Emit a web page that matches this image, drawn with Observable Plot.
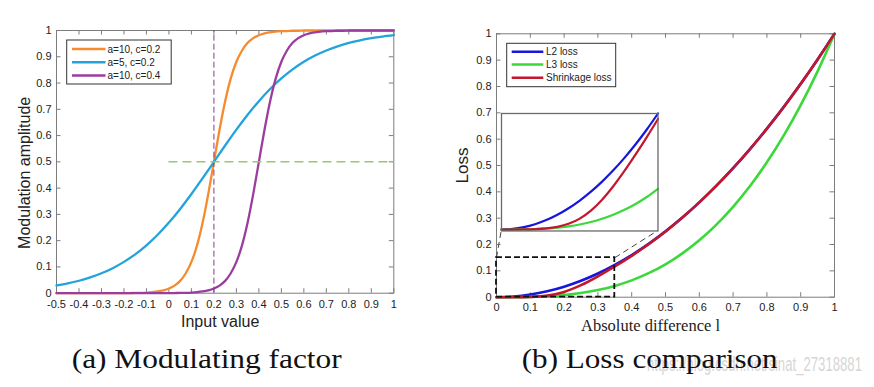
<!DOCTYPE html>
<html>
<head>
<meta charset="utf-8">
<script src="https://cdn.jsdelivr.net/npm/d3@7"></script>
<script src="https://cdn.jsdelivr.net/npm/@observablehq/plot@0.6"></script>
<style>
html, body { margin: 0; padding: 0; background: #fff; }
#root { position: relative; width: 874px; height: 387px; overflow: hidden; background: #fff; }
.abs { position: absolute; top: 0; }
</style>
</head>
<body>
<div id="root"></div>
<script>
// ---------- Panel (a): Modulating factor ----------
const seriesA = ["a=10, c=0.2", "a=5, c=0.2", "a=10, c=0.4"];
const xTicksA = [-0.5, -0.4, -0.3, -0.2, -0.1, 0, 0.1, 0.2, 0.3, 0.4, 0.5, 0.6, 0.7, 0.8, 0.9, 1];
const yTicks = [0, 0.1, 0.2, 0.3, 0.4, 0.5, 0.6, 0.7, 0.8, 0.9, 1];
const xSharp = [-0.5, -0.475, -0.45, -0.425, -0.4, -0.375, -0.35, -0.325, -0.3, -0.275, -0.25, -0.225, -0.2, -0.175, -0.15, -0.125, -0.1, -0.075, -0.05, -0.025,
  0, 0.025, 0.05, 0.075, 0.1, 0.125, 0.15, 0.175, 0.2, 0.225, 0.25, 0.275, 0.3, 0.325, 0.35, 0.375, 0.4, 0.425, 0.45, 0.475,
  0.5, 0.525, 0.55, 0.575, 0.6, 0.625, 0.65, 0.675, 0.7, 0.725, 0.75, 0.775, 0.8, 0.825, 0.85, 0.875, 0.9, 0.925, 0.95, 0.975, 1];
const orangeY = [0, 0, 0, 0, 0, 0, 0, 0, 0, 0, 0.0001, 0.0002, 0.0003, 0.0006, 0.0009, 0.0015, 0.0025, 0.0041, 0.0067, 0.011,
  0.018, 0.029, 0.047, 0.076, 0.119, 0.182, 0.269, 0.378, 0.5, 0.622, 0.731, 0.818, 0.881, 0.924, 0.953, 0.971, 0.982, 0.989, 0.993, 0.996,
  0.998, 0.998, 0.999, 0.999, 1, 1, 1, 1, 1, 1, 1, 1, 1, 1, 1, 1, 1, 1, 1, 1, 1];
const purpleY = [0, 0, 0, 0, 0, 0, 0, 0, 0, 0, 0, 0, 0, 0, 0, 0, 0, 0, 0.0001, 0.0002,
  0.0003, 0.0006, 0.0009, 0.0015, 0.0025, 0.0041, 0.0067, 0.011, 0.018, 0.029, 0.047, 0.076, 0.119, 0.182, 0.269, 0.378, 0.5, 0.622, 0.731, 0.818,
  0.881, 0.924, 0.953, 0.971, 0.982, 0.989, 0.993, 0.996, 0.998, 0.998, 0.999, 0.999, 1, 1, 1, 1, 1, 1, 1, 1, 1];
const xBlue = [-0.5, -0.45, -0.4, -0.35, -0.3, -0.25, -0.2, -0.15, -0.1, -0.05, 0, 0.05, 0.1, 0.15, 0.2, 0.25,
  0.3, 0.35, 0.4, 0.45, 0.5, 0.55, 0.6, 0.65, 0.7, 0.75, 0.8, 0.85, 0.9, 0.95, 1];
const blueY = [0.0293, 0.0373, 0.0474, 0.0601, 0.0759, 0.0953, 0.1192, 0.148, 0.1824, 0.2227, 0.2689, 0.3208, 0.3775, 0.4378, 0.5, 0.5622,
  0.6225, 0.6792, 0.7311, 0.7773, 0.8176, 0.852, 0.8808, 0.9047, 0.9241, 0.9399, 0.9526, 0.9627, 0.9707, 0.977, 0.982];
const refX = [0.2];      // vertical dashed reference
const refY = [0.5];      // horizontal dashed reference
const refYStart = [0];   // horizontal reference starts at x=0
const refYEnd = [1];

// ---------- Panel (b): Loss comparison ----------
const seriesB = ["L2 loss", "L3 loss", "Shrinkage loss"];
const xTicksB = [0, 0.1, 0.2, 0.3, 0.4, 0.5, 0.6, 0.7, 0.8, 0.9, 1];
const xLoss = [0, 0.05, 0.1, 0.15, 0.2, 0.25, 0.3, 0.35, 0.4, 0.45, 0.5, 0.55, 0.6, 0.65, 0.7, 0.75, 0.8, 0.85, 0.9, 0.95, 1];
const l2Loss = [0, 0.0025, 0.01, 0.0225, 0.04, 0.0625, 0.09, 0.1225, 0.16, 0.2025, 0.25, 0.3025, 0.36, 0.4225, 0.49, 0.5625, 0.64, 0.7225, 0.81, 0.9025, 1];
const l3Loss = [0, 0.000125, 0.001, 0.003375, 0.008, 0.015625, 0.027, 0.042875, 0.064, 0.091125, 0.125, 0.166375, 0.216, 0.274625, 0.343, 0.421875, 0.512, 0.614125, 0.729, 0.857375, 1];
const shrinkLoss = [0, 0.000118, 0.00119, 0.00605, 0.02, 0.0457, 0.0793, 0.1167, 0.1571, 0.2011, 0.2494, 0.3022, 0.3599, 0.4224, 0.4899, 0.5624, 0.6399, 0.7224, 0.8099, 0.9024, 0.9997];
const xInset = [0, 0.025, 0.05, 0.075, 0.1, 0.125, 0.15, 0.175, 0.2, 0.225, 0.25, 0.275, 0.3, 0.325, 0.35];
const l2Inset = [0, 0.000625, 0.0025, 0.005625, 0.01, 0.015625, 0.0225, 0.030625, 0.04, 0.050625, 0.0625, 0.075625, 0.09, 0.105625, 0.1225];
const l3Inset = [0, 0.0000156, 0.000125, 0.000422, 0.001, 0.00195, 0.003375, 0.00536, 0.008, 0.01139, 0.01563, 0.0208, 0.027, 0.03433, 0.04288];
const shrinkInset = [0, 0.0000181, 0.000118, 0.000428, 0.00119, 0.00284, 0.00605, 0.01158, 0.02, 0.03149, 0.04569, 0.06186, 0.07929, 0.0976, 0.1167];
const zoomBox = [{x1: 0, x2: 0.35, y1: 0, y2: 0.15}];          // dashed region in main axes
const insetBox = {x1: 0.014, x2: 0.477, y1: 0.253, y2: 0.699};  // where the inset sits (main data units)
const insetDomainX = [0, 0.35];
const insetDomainY = [-0.0015, 0.1225];
const connectors = [
  {x1: 0.35, y1: 0.15, x2: 0.477, y2: 0.253},
  {x1: 0, y1: 0.15, x2: 0.014, y2: 0.253}
];

// ---------- styling ----------
const sans = '"Liberation Sans", Arial, Helvetica, sans-serif';
const serif = '"Liberation Serif", "Times New Roman", serif';
const frameColor = "#7c7c7c";
const textColor = "#222";
const colA = ["#f58a2e", "#22a3dc", "#9b3d9e"];
const colB = ["#1616dc", "#3bd83b", "#c2172c"];
const tickLen = 4.5;

const root = document.getElementById("root");

function inwardTicks(xt, yt, innerW, innerH) {
  return [
    Plot.tickX(xt, {x: d => d, insetTop: innerH - tickLen, stroke: frameColor}),
    Plot.tickX(xt, {x: d => d, insetBottom: innerH - tickLen, stroke: frameColor}),
    Plot.tickY(yt, {y: d => d, insetRight: innerW - tickLen, stroke: frameColor}),
    Plot.tickY(yt, {y: d => d, insetLeft: innerW - tickLen, stroke: frameColor})
  ];
}

// ----- Panel (a)
const W1 = 420, H1 = 340, mL1 = 56, mR1 = 26.7, mT1 = 30, mB1 = 47.3;
const iW1 = W1 - mL1 - mR1, iH1 = H1 - mT1 - mB1;
const plotA = Plot.plot({
  width: W1, height: H1,
  marginLeft: mL1, marginRight: mR1, marginTop: mT1, marginBottom: mB1,
  style: {fontFamily: sans, fontSize: "11px", color: textColor, background: "transparent", overflow: "visible"},
  x: {domain: [-0.5, 1]},
  y: {domain: [0, 1]},
  marks: [
    Plot.axisX(xTicksA, {tickSize: 0, tickPadding: 7, tickFormat: d => String(d), label: null, fill: textColor}),
    Plot.axisY(yTicks, {tickSize: 0, tickPadding: 5, tickFormat: d => String(d), label: null, fill: textColor}),
    ...inwardTicks(xTicksA, yTicks, iW1, iH1),
    Plot.frame({stroke: frameColor, strokeWidth: 1}),
    Plot.line(xSharp, {x: d => d, y: (d, i) => orangeY[i], stroke: colA[0], strokeWidth: 2.3, curve: "monotone-x"}),
    Plot.line(xBlue, {x: d => d, y: (d, i) => blueY[i], stroke: colA[1], strokeWidth: 2.3, curve: "monotone-x"}),
    Plot.line(xSharp, {x: d => d, y: (d, i) => purpleY[i], stroke: colA[2], strokeWidth: 2.3, curve: "monotone-x"}),
    Plot.ruleX(refX, {x: d => d, y1: 0, y2: 1, stroke: "#8a3596", strokeWidth: 1, strokeDasharray: "6,3"}),
    Plot.ruleY(refY, {y: d => d, x1: refYStart[0], x2: refYEnd[0], stroke: "#93cc6b", strokeWidth: 1.5, strokeDasharray: "9,5"}),
    Plot.text(["Modulation amplitude"], {text: d => d, frameAnchor: "left", textAnchor: "middle", lineAnchor: "middle", dx: -32, dy: 11, rotate: -90, fontSize: 16, fill: textColor}),
    Plot.text(["Input value"], {text: d => d, frameAnchor: "bottom", textAnchor: "middle", lineAnchor: "middle", dx: -5, dy: 28.5, fontSize: 16, fill: textColor})
  ]
});
plotA.classList.add("abs");
plotA.style.left = "0px";
root.appendChild(plotA);

// ----- Panel (b)
const W2 = 434, H2 = 340, mL2 = 56, mR2 = 40, mT2 = 33.3, mB2 = 43.3;
const iW2 = W2 - mL2 - mR2, iH2 = H2 - mT2 - mB2;
const plotB = Plot.plot({
  width: W2, height: H2,
  marginLeft: mL2, marginRight: mR2, marginTop: mT2, marginBottom: mB2,
  style: {fontFamily: sans, fontSize: "11px", color: textColor, background: "transparent", overflow: "visible"},
  x: {domain: [0, 1]},
  y: {domain: [0, 1]},
  marks: [
    Plot.axisX(xTicksB, {tickSize: 0, tickPadding: 6, tickFormat: d => String(d), label: null, fill: textColor}),
    Plot.axisY(yTicks, {tickSize: 0, tickPadding: 5, tickFormat: d => String(d), label: null, fill: textColor}),
    ...inwardTicks(xTicksB, yTicks, iW2, iH2),
    Plot.frame({stroke: frameColor, strokeWidth: 1}),
    Plot.link(connectors, {x1: "x1", y1: "y1", x2: "x2", y2: "y2", stroke: "#444", strokeWidth: 1, strokeDasharray: "6,4"}),
    Plot.line(xLoss, {x: d => d, y: (d, i) => l2Loss[i], stroke: colB[0], strokeWidth: 2.6, curve: "monotone-x"}),
    Plot.line(xLoss, {x: d => d, y: (d, i) => l3Loss[i], stroke: colB[1], strokeWidth: 2.6, curve: "monotone-x"}),
    Plot.line(xLoss, {x: d => d, y: (d, i) => shrinkLoss[i], stroke: colB[2], strokeWidth: 2.6, curve: "monotone-x"}),
    Plot.rect(zoomBox, {x1: "x1", x2: "x2", y1: "y1", y2: "y2", fill: "none", stroke: "#111", strokeWidth: 1.8, strokeDasharray: "6,3"}),
    Plot.text(["Loss"], {text: d => d, frameAnchor: "left", textAnchor: "middle", lineAnchor: "middle", dx: -33.5, dy: 0, rotate: -90, fontSize: 17, fill: textColor}),
    Plot.text(["Absolute difference l"], {text: d => d, frameAnchor: "bottom", textAnchor: "middle", lineAnchor: "middle", dx: -15, dy: 28.5, fontSize: 16.5, fontFamily: serif, fill: textColor})
  ]
});
plotB.classList.add("abs");
plotB.style.left = "440px";
root.appendChild(plotB);

// ----- Inset of panel (b), placed with the main scales
const sx = plotB.scale("x"), sy = plotB.scale("y");
const ix0 = sx.apply(insetBox.x1), ix1 = sx.apply(insetBox.x2);
const iy0 = sy.apply(insetBox.y2), iy1 = sy.apply(insetBox.y1);
const inset = Plot.plot({
  width: ix1 - ix0, height: iy1 - iy0,
  margin: 0,
  style: {background: "#fff", overflow: "visible"},
  x: {domain: insetDomainX, axis: null},
  y: {domain: insetDomainY, axis: null},
  marks: [
    Plot.line(xInset, {x: d => d, y: (d, i) => l2Inset[i], stroke: colB[0], strokeWidth: 2.2, curve: "monotone-x"}),
    Plot.line(xInset, {x: d => d, y: (d, i) => l3Inset[i], stroke: colB[1], strokeWidth: 2.2, curve: "monotone-x"}),
    Plot.line(xInset, {x: d => d, y: (d, i) => shrinkInset[i], stroke: colB[2], strokeWidth: 2.2, curve: "monotone-x"}),
    Plot.frame({stroke: "#6a6a6a", strokeWidth: 1.3})
  ]
});
inset.classList.add("abs");
inset.style.left = (440 + ix0) + "px";
inset.style.top = iy0 + "px";
root.appendChild(inset);

// ----- Legends (inside the axes, MATLAB style)
function legend(svgNode, names, colors, box, rows, lineX, textX) {
  const g = d3.select(svgNode).append("g").attr("font-family", sans).attr("font-size", 10).attr("text-anchor", "start");
  g.append("rect").attr("x", box.x).attr("y", box.y).attr("width", box.w).attr("height", box.h)
    .attr("fill", "#fff").attr("stroke", "#333").attr("stroke-width", 1);
  names.forEach((n, i) => {
    g.append("line").attr("x1", lineX[0]).attr("x2", lineX[1]).attr("y1", rows[i]).attr("y2", rows[i])
      .attr("stroke", colors[i]).attr("stroke-width", 2.5);
    g.append("text").attr("x", textX).attr("y", rows[i]).attr("dy", "0.35em")
      .attr("text-anchor", "start").attr("fill", textColor).text(n);
  });
}
legend(plotA, seriesA, colA, {x: 66.7, y: 40, w: 104.5, h: 44}, [49, 62.3, 75.5], [72, 105.5], 107.5);
legend(plotB, seriesB, colB, {x: 66.7, y: 43.3, w: 109, h: 43.4}, [51.7, 64.6, 77.8], [71.7, 103.3], 106);

// ----- Captions and watermark
const cap = d3.select(root).append("svg").attr("class", "abs").style("left", "0px")
  .attr("width", 874).attr("height", 387).style("pointer-events", "none");
cap.append("text").attr("x", 647).attr("y", 371).attr("font-family", sans).attr("font-size", 20)
  .attr("fill", "#d6d6d6").attr("textLength", 215).attr("lengthAdjust", "spacingAndGlyphs")
  .text("https://blog.csdn.net/sinat_27318881");
cap.append("text").attr("x", 71.7).attr("y", 368).attr("font-family", serif).attr("font-size", 27)
  .attr("fill", "#111").attr("textLength", 270).attr("lengthAdjust", "spacingAndGlyphs")
  .text("(a) Modulating factor");
cap.append("text").attr("x", 521.7).attr("y", 368).attr("font-family", serif).attr("font-size", 27)
  .attr("fill", "#111").attr("textLength", 256).attr("lengthAdjust", "spacingAndGlyphs")
  .text("(b) Loss comparison");
</script>
</body>
</html>
